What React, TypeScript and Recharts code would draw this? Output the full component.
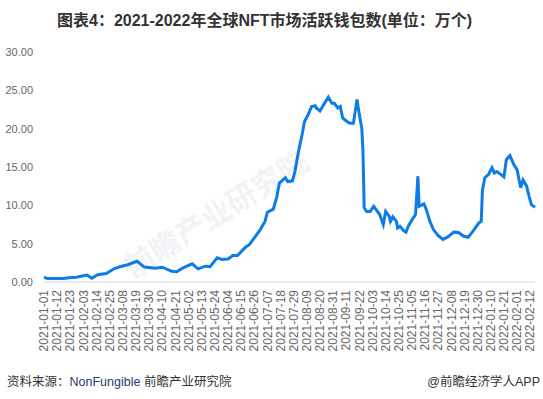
import { LineChart, Line, XAxis, YAxis } from "recharts";

// day index counted from 2021-01-01
const DAYS = [
  0, 3, 16, 21, 27, 31, 36, 40, 45, 52, 59, 65, 70, 78, 84, 93, 99, 107, 111, 116,
  124, 129, 135, 139, 145, 149, 154, 158, 162, 168, 172, 177, 181, 185, 187, 192, 195, 197, 202, 204,
  208, 210, 213, 216, 218, 221, 224, 227, 228, 231, 234, 238, 241, 243, 246, 248, 250, 253, 256, 259,
  262, 264, 266, 267, 268, 270, 273, 276, 278, 281, 284, 286, 289, 290, 292, 295, 296, 298, 301, 303,
  305, 308, 311, 313, 314, 318, 320, 323, 326, 330, 334, 338, 343, 347, 351, 355, 359, 364, 366, 367,
  369, 372, 375, 377, 379, 381, 385, 387, 390, 393, 396, 399, 401, 404, 406, 408, 411,
];

// active wallets, 万个
const WALLETS = [
  0.6, 0.45, 0.45, 0.55, 0.62, 0.75, 0.9, 0.5, 0.95, 1.1, 1.75, 2.05, 2.25, 2.7, 1.95, 1.8, 1.93, 1.4, 1.33, 1.8,
  2.37, 1.72, 2.06, 2.0, 3.15, 2.93, 3.0, 3.45, 3.45, 4.45, 4.9, 5.96, 6.84, 7.9, 9.1, 9.5, 11.2, 12.9, 13.6, 13.1,
  13.2, 14.4, 17.0, 19.2, 20.9, 21.8, 22.9, 23.0, 22.7, 22.3, 23.1, 24.1, 23.3, 23.3, 22.7, 22.9, 21.4, 21.0, 20.7, 20.7,
  23.8, 21.8, 20.1, 17.0, 9.7, 9.2, 9.2, 9.87, 9.44, 8.8, 7.5, 9.2, 8.57, 7.9, 8.5, 7.9, 7.06, 7.27, 6.7, 6.5,
  7.3, 8.1, 8.8, 13.8, 9.87, 10.2, 9.44, 7.9, 6.84, 6.05, 5.55, 5.88, 6.5, 6.45, 6.0, 5.83, 6.6, 7.7, 7.9, 12.0,
  13.6, 14.0, 14.9, 14.2, 14.4, 14.2, 13.7, 15.95, 16.5, 15.4, 14.65, 12.3, 13.3, 12.5, 11.2, 10.1, 9.74,
];

const TICK_LABELS = [
  "2021-01-01", "2021-01-12", "2021-01-23", "2021-02-03", "2021-02-14", "2021-02-25",
  "2021-03-08", "2021-03-19", "2021-03-30", "2021-04-10", "2021-04-21", "2021-05-02",
  "2021-05-13", "2021-05-24", "2021-06-04", "2021-06-15", "2021-06-26", "2021-07-07",
  "2021-07-18", "2021-07-29", "2021-08-09", "2021-08-20", "2021-08-31", "2021-09-11",
  "2021-09-22", "2021-10-03", "2021-10-14", "2021-10-25", "2021-11-05", "2021-11-16",
  "2021-11-27", "2021-12-08", "2021-12-19", "2021-12-30", "2022-01-10", "2022-01-21",
  "2022-02-01", "2022-02-12",
];
const TICK_STEP = 11;
const Y_TICKS = [0, 5, 10, 15, 20, 25, 30];

const data = DAYS.map((d, i) => ({ day: d, value: WALLETS[i] }));
const xTicks = TICK_LABELS.map((_, i) => i * TICK_STEP);

const FONT = "'Liberation Sans', Arial, 'Noto Sans CJK SC', sans-serif";

function DateTick({ x, y, payload }: any) {
  const label = TICK_LABELS[Math.round(payload.value / TICK_STEP)] ?? "";
  return (
    <text
      x={x}
      y={y}
      transform={`rotate(-90 ${x} ${y})`}
      textAnchor="end"
      dy="0.35em"
      fontSize={12}
      fill="#666"
      fontFamily={FONT}
    >
      {label}
    </text>
  );
}

export default function App() {
  return (
    <div
      style={{
        position: "absolute",
        left: 0,
        top: 0,
        width: 543,
        height: 399,
        background: "#fff",
        fontFamily: FONT,
        overflow: "hidden",
      }}
    >
      {/* watermark */}
      <div
        style={{
          position: "absolute",
          left: 110,
          top: 190,
          fontSize: 30,
          fontWeight: "bold",
          color: "#f1f3f6",
          transform: "rotate(-32deg)",
          whiteSpace: "nowrap",
        }}
      >
        前瞻产业研究院
      </div>

      <div
        style={{
          position: "absolute",
          left: 57,
          top: 7,
          fontSize: 16,
          fontWeight: "bold",
          color: "#333",
          whiteSpace: "nowrap",
        }}
      >
        图表4：2021-2022年全球NFT市场活跃钱包数(单位：万个)
      </div>

      <div style={{ position: "absolute", left: 0, top: 0 }}>
        <LineChart width={543} height={370} data={data} margin={{ top: 52, right: 8, bottom: 0, left: 0 }}>
          <XAxis
            dataKey="day"
            type="number"
            domain={[0, 411]}
            ticks={xTicks}
            interval={0}
            height={88}
            tickLine={false}
            axisLine={{ stroke: "#d9d9d9" }}
            tick={<DateTick />}
          />
          <YAxis
            domain={[0, 30]}
            ticks={Y_TICKS}
            width={44}
            axisLine={false}
            tickLine={false}
            tickMargin={5}
            tickFormatter={(v: number) => v.toFixed(2)}
            tick={{ fontSize: 11, fill: "#666", fontFamily: FONT }}
          />
          <Line
            type="linear"
            dataKey="value"
            stroke="#0f7ce6"
            strokeWidth={3}
            dot={false}
            isAnimationActive={false}
          />
        </LineChart>
      </div>

      <div
        style={{
          position: "absolute",
          left: 7,
          top: 371,
          fontSize: 12.5,
          color: "#333",
          whiteSpace: "nowrap",
        }}
      >
        资料来源：<span style={{ color: "#1f3a6e" }}>NonFungible</span> 前瞻产业研究院
      </div>
      <div
        style={{
          position: "absolute",
          right: 3,
          top: 371,
          fontSize: 12.5,
          color: "#333",
          whiteSpace: "nowrap",
        }}
      >
        @前瞻经济学人APP
      </div>
    </div>
  );
}
